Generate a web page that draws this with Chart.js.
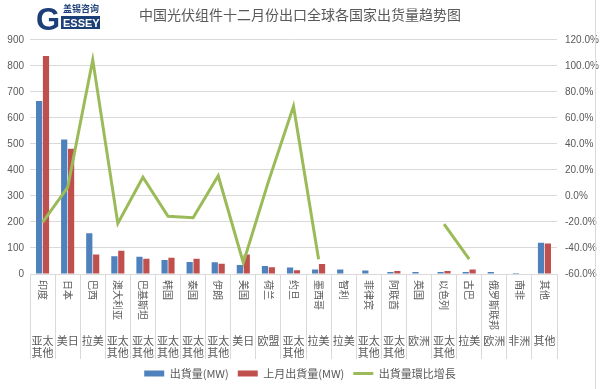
<!DOCTYPE html>
<html lang="zh">
<head>
  <meta charset="UTF-8">
  <title>中国光伏组件十二月份出口全球各国家出货量趋势图</title>
  <script src="https://cdn.jsdelivr.net/npm/chart.js@4.4.1/dist/chart.umd.min.js"></script>
  <style>
    body { margin: 0; background: #fff; }
    #wrap { width: 600px; height: 389px; }
  </style>
</head>
<body>
  <div id="wrap"><canvas id="chart" width="600" height="389"></canvas></div>

<script>
  // data
  const countries = ['印度', '日本', '巴西', '澳大利亚', '巴基斯坦', '韩国', '泰国', '伊朗', '美国', '荷兰', '约旦',
    '墨西哥', '智利', '菲律宾', '阿联酋', '英国', '以色列', '古巴', '俄罗斯联邦', '南非', '其他'];
  const regions = ['亚太其他', '美日', '拉美', '亚太其他', '亚太其他', '亚太其他', '亚太其他', '亚太其他', '美日', '欧盟', '亚太其他',
    '拉美', '拉美', '亚太其他', '亚太其他', '欧洲', '亚太其他', '拉美', '欧洲', '非洲', '其他'];
  const shipments = [665, 517, 157, 68, 66, 54, 46, 45, 35, 31, 25, 17, 17, 13, 8, 8, 8, 8, 8, 4, 120];
  const lastMonth = [838, 481, 75, 89, 59, 62, 59, 39, 75, 26, 14, 38, null, null, 12, null, 12, 17, null, null, 117];
  const growth = [-20.4, 6.5, 104.6, -21.1, 14.4, -15.7, -16.7, 15.5, -51.3, 11, 69, -48.6,
    null, null, null, null, -21.6, -48.6, null, null, null];
  const seriesNames = ['出貨量(MW)', '上月出貨量(MW)', '出貨量環比增長'];
  const titleText = '中国光伏组件十二月份出口全球各国家出货量趋势图';

  const grey = '#595959';
  const gridColor = '#d9d9d9';
  const cjk = "'Noto Sans CJK SC', 'Noto Sans', sans-serif";

  // category labels (rotated) and region labels under the axis
  const axisLabels = {
    id: 'axisLabels',
    afterDraw(chart) {
      const ctx = chart.ctx;
      const sx = chart.scales.x;
      ctx.save();
      ctx.fillStyle = grey;
      for (let i = 0; i < countries.length; i++) {
        const px = sx.getPixelForTick(i);
        ctx.save();
        ctx.font = '10px ' + cjk;
        ctx.translate(px, sx.top + 6);
        ctx.rotate(Math.PI / 2);
        ctx.textAlign = 'left';
        ctx.textBaseline = 'middle';
        ctx.fillText(countries[i], 0, 0);
        ctx.restore();

        ctx.font = '11px ' + cjk;
        ctx.textAlign = 'center';
        ctx.textBaseline = 'middle';
        const r = regions[i];
        const lines = r.length > 2 ? [r.slice(0, 2), r.slice(2)] : [r];
        lines.forEach((t, j) => ctx.fillText(t, px, sx.top + 67 + j * 12));
      }
      ctx.restore();
    }
  };

  // logo in the top left corner and the thin frame
  const logo = {
    id: 'logo',
    afterDraw(chart) {
      const ctx = chart.ctx;
      ctx.save();
      ctx.fillStyle = '#1d3f78';
      ctx.font = 'bold 31px "Liberation Sans", sans-serif';
      ctx.textBaseline = 'alphabetic';
      ctx.fillText('G', 36, 30);
      ctx.fillRect(61, 16, 39, 13);
      ctx.font = 'bold 9px ' + cjk;
      ctx.fillText('盖锡咨询', 63, 12);
      ctx.fillStyle = '#fff';
      ctx.font = 'bold 11px "Liberation Sans", sans-serif';
      ctx.fillText('ESSEY', 63, 27);
      ctx.strokeStyle = gridColor;
      ctx.beginPath();
      ctx.moveTo(595.5, 0);
      ctx.lineTo(595.5, 389);
      ctx.stroke();
      ctx.restore();
    }
  };

  new Chart(document.getElementById('chart'), {
    type: 'bar',
    data: {
      labels: countries,
      datasets: [
        {
          label: seriesNames[0],
          data: shipments,
          backgroundColor: '#4f81bd',
          borderWidth: 0,
          pointStyle: 'rect',
          categoryPercentage: 0.55,
          barPercentage: 0.9,
          yAxisID: 'y',
          order: 1
        },
        {
          label: seriesNames[1],
          data: lastMonth,
          backgroundColor: '#c0504d',
          borderWidth: 0,
          pointStyle: 'rect',
          categoryPercentage: 0.55,
          barPercentage: 0.9,
          yAxisID: 'y',
          order: 1
        },
        {
          type: 'line',
          label: seriesNames[2],
          data: growth,
          borderColor: '#9bbb59',
          backgroundColor: '#9bbb59',
          borderWidth: 3,
          pointRadius: 0,
          pointStyle: 'line',
          tension: 0,
          yAxisID: 'y1',
          order: 0
        }
      ]
    },
    options: {
      responsive: false,
      animation: false,
      layout: { padding: 0 },
      plugins: {
        title: {
          display: true,
          text: titleText,
          color: grey,
          font: { family: cjk, size: 14, weight: 'normal' },
          padding: { top: 6, bottom: 17 }
        },
        legend: {
          position: 'bottom',
          labels: {
            color: grey,
            font: { family: cjk, size: 11 },
            usePointStyle: true,
            pointStyleWidth: 20,
            boxHeight: 6,
            padding: 9,
            sort: (a, b) => a.datasetIndex - b.datasetIndex
          }
        },
        tooltip: { enabled: false }
      },
      scales: {
        x: {
          grid: { display: true, drawOnChartArea: false, offset: true, tickLength: 85, color: gridColor },
          border: { color: gridColor },
          ticks: { display: false },
          afterFit(s) { s.height = 85; }
        },
        y: {
          position: 'left',
          min: 0,
          max: 900,
          ticks: { stepSize: 100, color: grey, font: { size: 10 }, padding: 6 },
          grid: { color: gridColor, drawTicks: false },
          border: { display: false },
          afterFit(s) { s.width = 30; }
        },
        y1: {
          position: 'right',
          min: -60,
          max: 120,
          ticks: {
            stepSize: 20, color: grey, font: { size: 10 }, padding: 8,
            callback: v => v.toFixed(1) + '%'
          },
          grid: { drawOnChartArea: false, drawTicks: false },
          border: { display: false },
          afterFit(s) { s.width = 43; }
        }
      }
    },
    plugins: [axisLabels, logo]
  });
</script>
</body>
</html>
